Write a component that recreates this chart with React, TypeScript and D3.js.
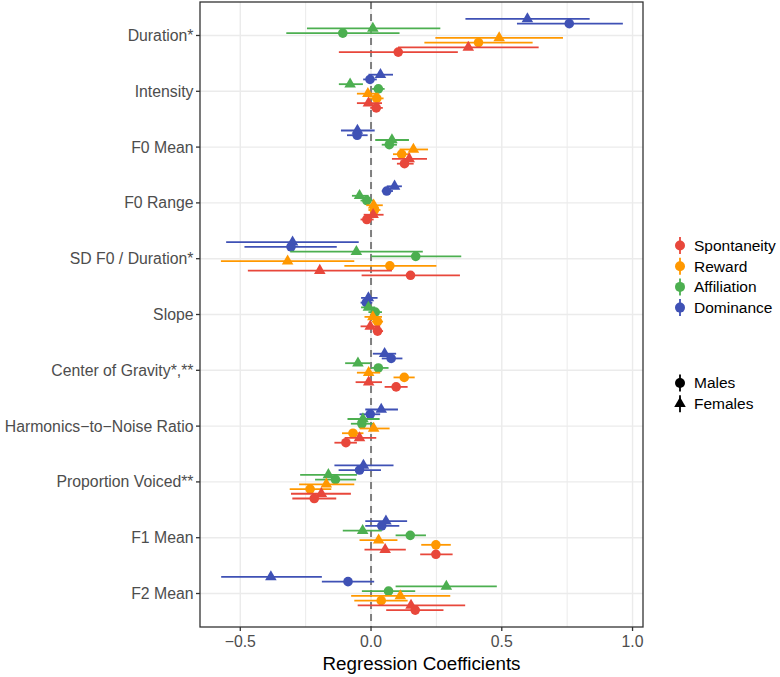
import React from 'react';
import * as d3 from 'd3';

// categories, top to bottom
const categories = [
    "Duration*",
    "Intensity",
    "F0 Mean",
    "F0 Range",
    "SD F0 / Duration*",
    "Slope",
    "Center of Gravity*,**",
    "Harmonics\u2212to\u2212Noise Ratio",
    "Proportion Voiced**",
    "F1 Mean",
    "F2 Mean",
];

const seriesNames = ["Spontaneity", "Reward", "Affiliation", "Dominance"];
const seriesColors = ["#E8473B", "#FF9800", "#4CAF50", "#3F51B5"];
const sexNames = ["Males", "Females"];

const xTicks = [-0.5, 0, 0.5, 1.0];
const xMinorTicks = [-0.25, 0.25, 0.75];

// [estimate, lower, upper] per category
const spontaneityMales = [
    [0.104, -0.123, 0.332], [0.02, -0.003, 0.045], [0.128, 0.099, 0.163], [-0.016, -0.04, 0.01],
    [0.151, -0.036, 0.34], [0.025, 0.007, 0.046], [0.096, 0.052, 0.14], [-0.096, -0.14, -0.054],
    [-0.217, -0.301, -0.133], [0.248, 0.188, 0.312], [0.169, 0.058, 0.277],
];
const spontaneityFemales = [
    [0.372, 0.103, 0.641], [-0.01, -0.054, 0.042], [0.146, 0.08, 0.214], [0.008, -0.028, 0.048],
    [-0.196, -0.471, 0.08], [-0.003, -0.04, 0.035], [-0.009, -0.059, 0.042], [-0.044, -0.101, 0.02],
    [-0.19, -0.306, -0.077], [0.054, -0.025, 0.133], [0.153, -0.051, 0.36],
];
const rewardMales = [
    [0.411, 0.204, 0.618], [0.022, -0.01, 0.048], [0.117, 0.084, 0.15], [0.013, -0.01, 0.036],
    [0.072, -0.102, 0.25], [0.025, 0.003, 0.046], [0.127, 0.086, 0.167], [-0.069, -0.111, -0.029],
    [-0.233, -0.311, -0.152], [0.248, 0.192, 0.305], [0.039, -0.064, 0.14],
];
const rewardFemales = [
    [0.49, 0.246, 0.734], [-0.012, -0.054, 0.029], [0.162, 0.109, 0.218], [0.01, -0.018, 0.045],
    [-0.319, -0.574, -0.064], [0.007, -0.025, 0.042], [-0.009, -0.054, 0.035], [0.01, -0.044, 0.071],
    [-0.171, -0.275, -0.064], [0.029, -0.044, 0.101], [0.112, -0.076, 0.303],
];
const affiliationMales = [
    [-0.108, -0.324, 0.109], [0.028, 0.004, 0.052], [0.07, 0.041, 0.099], [-0.016, -0.04, 0.008],
    [0.171, 0.0, 0.345], [0.016, -0.01, 0.042], [0.028, 0.0, 0.067], [-0.035, -0.077, 0.01],
    [-0.136, -0.214, -0.057], [0.15, 0.094, 0.21], [0.067, -0.035, 0.169],
];
const affiliationFemales = [
    [0.007, -0.245, 0.265], [-0.08, -0.123, -0.031], [0.08, 0.016, 0.145], [-0.044, -0.073, -0.009],
    [-0.056, -0.309, 0.198], [-0.01, -0.038, 0.016], [-0.05, -0.099, -0.003], [-0.031, -0.09, 0.033],
    [-0.163, -0.271, -0.054], [-0.032, -0.108, 0.041], [0.288, 0.094, 0.481],
];
const dominanceMales = [
    [0.758, 0.558, 0.963], [-0.004, -0.03, 0.022], [-0.053, -0.092, -0.013], [0.06, 0.041, 0.084],
    [-0.306, -0.484, -0.131], [-0.018, -0.04, 0.005], [0.077, 0.041, 0.12], [-0.003, -0.044, 0.035],
    [-0.044, -0.124, 0.038], [0.041, -0.022, 0.108], [-0.088, -0.188, 0.012],
];
const dominanceFemales = [
    [0.598, 0.361, 0.836], [0.036, -0.01, 0.084], [-0.052, -0.115, 0.014], [0.09, 0.06, 0.118],
    [-0.30, -0.554, -0.047], [-0.01, -0.038, 0.025], [0.052, 0.007, 0.096], [0.039, -0.022, 0.103],
    [-0.029, -0.14, 0.086], [0.057, -0.022, 0.138], [-0.383, -0.573, -0.188],
];

// groups in dodge order, top to bottom within a category
const groups = [
    { series: "Dominance", sex: "Females", values: dominanceFemales },
    { series: "Dominance", sex: "Males", values: dominanceMales },
    { series: "Affiliation", sex: "Females", values: affiliationFemales },
    { series: "Affiliation", sex: "Males", values: affiliationMales },
    { series: "Reward", sex: "Females", values: rewardFemales },
    { series: "Reward", sex: "Males", values: rewardMales },
    { series: "Spontaneity", sex: "Females", values: spontaneityFemales },
    { series: "Spontaneity", sex: "Males", values: spontaneityMales },
];

const FONT = "'Liberation Sans', Arial, Helvetica, sans-serif";

const App = () => {
    const width = 780;
    const height = 677;
    const panel = { left: 200, right: 643, top: 2, bottom: 627 };

    const xScale = d3.scaleLinear().domain([-0.654, 1.04]).range([panel.left, panel.right]);
    const yScale = d3.scalePoint().domain(categories).range([panel.top, panel.bottom]).padding(0.6);
    const dodge = d3
        .scalePoint()
        .domain(groups.map((g) => g.series + g.sex))
        .range([-16.6, 16.6]);
    const color = d3.scaleOrdinal().domain(seriesNames).range(seriesColors);

    const tri = d3.symbol().type(d3.symbolTriangle).size(58)();
    const legendTri = d3.symbol().type(d3.symbolTriangle).size(58)();

    const grid = "#EBEBEB";
    const dark = "#333333";

    return (
        <svg width={width} height={height} style={{ position: "absolute", left: 0, top: 0 }} fontFamily={FONT}>
            <rect x={0} y={0} width={width} height={height} fill="#fff" />
            {/* grid */}
            {xMinorTicks.map((t) => (
                <line key={"mn" + t} x1={xScale(t)} x2={xScale(t)} y1={panel.top} y2={panel.bottom} stroke={grid} strokeWidth={1} />
            ))}
            {xTicks.map((t) => (
                <line key={"mj" + t} x1={xScale(t)} x2={xScale(t)} y1={panel.top} y2={panel.bottom} stroke={grid} strokeWidth={1.4} />
            ))}
            {categories.map((c) => (
                <line key={"hg" + c} x1={panel.left} x2={panel.right} y1={yScale(c)} y2={yScale(c)} stroke={grid} strokeWidth={1.4} />
            ))}
            {/* zero reference */}
            <line x1={xScale(0)} x2={xScale(0)} y1={panel.top} y2={panel.bottom} stroke="#7F7F7F" strokeWidth={2} strokeDasharray="7,5" />

            {/* point ranges */}
            {groups.map((g) =>
                g.values.map((v, i) => {
                    const y = yScale(categories[i]) + dodge(g.series + g.sex);
                    const col = color(g.series);
                    return (
                        <g key={g.series + g.sex + i}>
                            <line x1={xScale(v[1])} x2={xScale(v[2])} y1={y} y2={y} stroke={col} strokeWidth={1.8} />
                            {g.sex === "Males" ? (
                                <circle cx={xScale(v[0])} cy={y} r={4.8} fill={col} />
                            ) : (
                                <path d={tri} transform={`translate(${xScale(v[0])},${y})`} fill={col} />
                            )}
                        </g>
                    );
                })
            )}

            {/* panel border */}
            <rect x={panel.left} y={panel.top} width={panel.right - panel.left} height={panel.bottom - panel.top} fill="none" stroke={dark} strokeWidth={1.3} />

            {/* y axis */}
            {categories.map((c) => (
                <g key={"yt" + c}>
                    <line x1={panel.left - 4} x2={panel.left} y1={yScale(c)} y2={yScale(c)} stroke={dark} strokeWidth={1.3} />
                    <text x={panel.left - 6.5} y={yScale(c)} dy="0.35em" textAnchor="end" fontSize={15.8} fill="#4D4D4D">
                        {c}
                    </text>
                </g>
            ))}

            {/* x axis */}
            {xTicks.map((t) => (
                <g key={"xt" + t}>
                    <line x1={xScale(t)} x2={xScale(t)} y1={panel.bottom} y2={panel.bottom + 4} stroke={dark} strokeWidth={1.3} />
                    <text x={xScale(t)} y={panel.bottom + 20} textAnchor="middle" fontSize={15.8} fill="#4D4D4D">
                        {d3.format(".1f")(t).replace("-", "\u2212")}
                    </text>
                </g>
            ))}
            <text x={(panel.left + panel.right) / 2} y={670} textAnchor="middle" fontSize={18.8} fill="#000">
                Regression Coefficients
            </text>

            {/* legend: series */}
            {seriesNames.map((s, i) => {
                const y = 245.5 + i * 20.7;
                return (
                    <g key={"lg" + s}>
                        <line x1={680} x2={680} y1={y - 8.5} y2={y + 8.5} stroke={color(s)} strokeWidth={1.8} />
                        <circle cx={680} cy={y} r={5} fill={color(s)} />
                        <text x={694} y={y} dy="0.35em" fontSize={15.5} fill="#000">
                            {s}
                        </text>
                    </g>
                );
            })}

            {/* legend: sex */}
            {sexNames.map((s, i) => {
                const y = 383 + i * 20.7;
                return (
                    <g key={"ls" + s}>
                        <line x1={680} x2={680} y1={y - 8.5} y2={y + 8.5} stroke="#000" strokeWidth={1.8} />
                        {s === "Males" ? (
                            <circle cx={680} cy={y} r={5} fill="#000" />
                        ) : (
                            <path d={legendTri} transform={`translate(680,${y})`} fill="#000" />
                        )}
                        <text x={694} y={y} dy="0.35em" fontSize={15.5} fill="#000">
                            {s}
                        </text>
                    </g>
                );
            })}
        </svg>
    );
};

export default App;
